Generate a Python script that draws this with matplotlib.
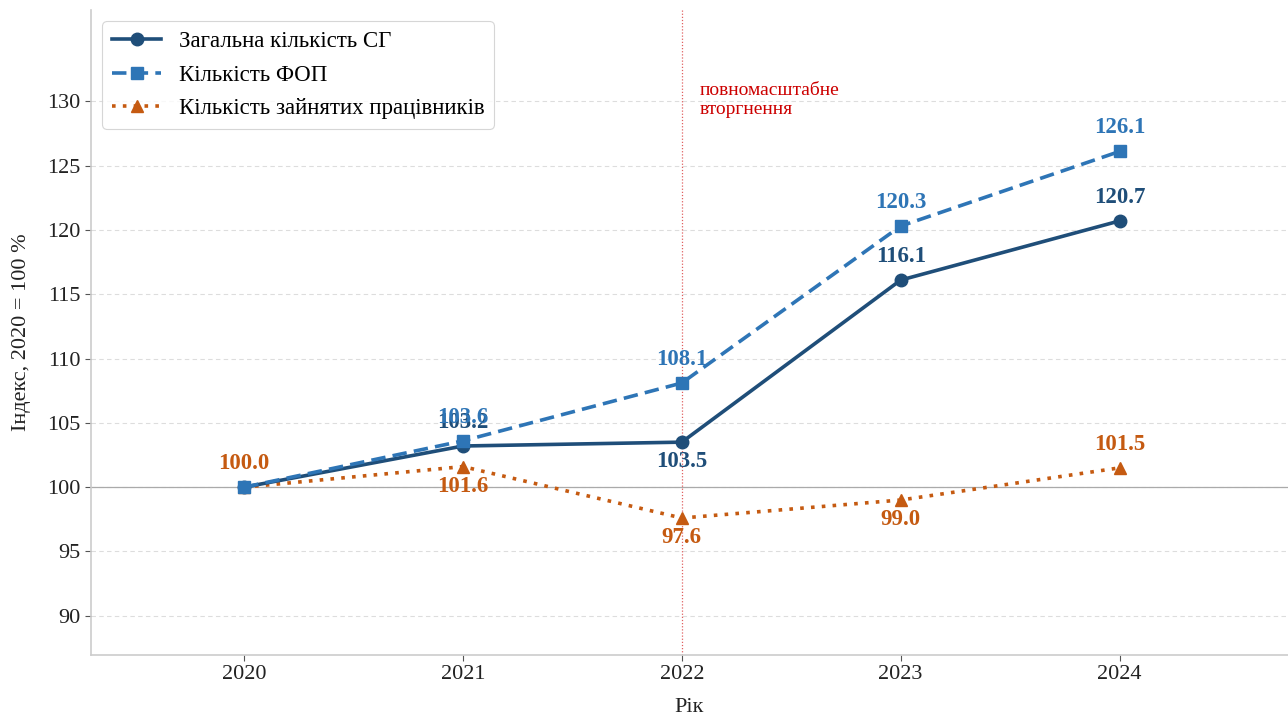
import matplotlib
matplotlib.use("Agg")
import matplotlib.pyplot as plt

plt.rcParams['font.family'] = ['Liberation Serif', 'DejaVu Serif']

years = [2020, 2021, 2022, 2023, 2024]
total_sg = [100.0, 103.2, 103.5, 116.1, 120.7]
fop = [100.0, 103.6, 108.1, 120.3, 126.1]
employees = [100.0, 101.6, 97.6, 99.0, 101.5]

# label placement: +1 above, -1 below, 0 none
sg_pos = [0, 1, -1, 1, 1]
fop_pos = [0, 1, 1, 1, 1]
emp_pos = [1, -1, -1, -1, 1]

c_sg = '#1f4e79'
c_fop = '#2e75b6'
c_emp = '#c55a11'

fig = plt.figure(figsize=(12.88, 7.15), dpi=100)
ax = fig.add_axes([91/1288, 60/715, (1288-91)/1288, (655-10)/715])

ax.plot(years, total_sg, color=c_sg, lw=2.6, marker='o', ms=9, label='Загальна кількість СГ', zorder=4)
ax.plot(years, fop, color=c_fop, lw=2.6, ls=(0, (4, 2)), marker='s', ms=9, label='Кількість ФОП', zorder=5)
ax.plot(years, employees, color=c_emp, lw=2.6, ls=(0, (1, 2)), marker='^', ms=9, label='Кількість зайнятих працівників', zorder=3)

def label(xs, ys, pos, color):
    for x, y, p in zip(xs, ys, pos):
        if p == 0:
            continue
        off = 17 if p > 0 else -14
        ax.annotate(f'{y:.1f}', (x, y), xytext=(0, off), textcoords='offset points',
                    ha='center', va='center', fontsize=16.5, fontweight='bold', color=color, zorder=6)

label(years, total_sg, sg_pos, c_sg)
label(years, fop, fop_pos, c_fop)
label(years, employees, emp_pos, c_emp)

ax.axhline(100, color='#aaaaaa', lw=0.9, zorder=1)
ax.axvline(2022, color='#e06060', lw=0.9, ls=(0, (1, 1.5)), zorder=1)
ax.text(2022.08, 130.1, 'повномасштабне\nвторгнення', color='#cc0000', fontsize=14,
        ha='left', va='center', linespacing=1.15)

ax.set_xlim(2019.3, 2024.77)
ax.set_ylim(86.95, 137.1)
ax.set_xticks(years)
ax.set_yticks([90, 95, 100, 105, 110, 115, 120, 125, 130])
ax.tick_params(labelsize=16, length=4, width=0.8, colors='#555555', labelcolor='#222222')
ax.grid(axis='y', color='#dddddd', ls=(0, (4, 3)), lw=0.8)
ax.set_axisbelow(True)
for s in ['top', 'right']:
    ax.spines[s].set_visible(False)
for s in ['left', 'bottom']:
    ax.spines[s].set_color('#cccccc')
    ax.spines[s].set_linewidth(1.2)

ax.set_xlabel('Рік', fontsize=16, color='#222222', labelpad=10)
ax.set_ylabel('Індекс, 2020 = 100 %', fontsize=16, color='#222222', labelpad=12)

leg = ax.legend(loc='upper left', fontsize=16.5, frameon=True, handlelength=2.15,
                handletextpad=0.75, borderpad=0.42, labelspacing=0.55)
leg.get_frame().set_edgecolor('#cccccc')
leg.get_frame().set_linewidth(0.8)

fig.savefig('out.png', dpi=100)
